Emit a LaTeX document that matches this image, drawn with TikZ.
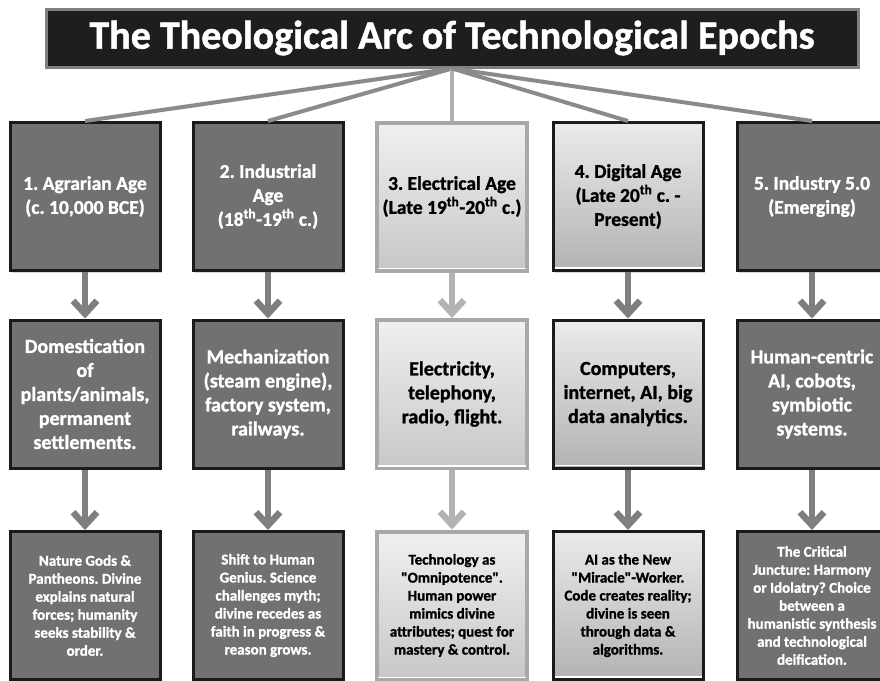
\documentclass[tikz,border=0pt]{standalone}
\usepackage{fontspec}
\setmainfont{Carlito}[BoldFeatures={FakeBold=1.2}]
% same face without the TeX quote mapping, for straight double quotes
\newfontfamily\plainquote{Carlito}[BoldFeatures={FakeBold=1.2}]
\usetikzlibrary{arrows.meta,shadows}
\newcommand{\strq}{{\plainquote"}}
\frenchspacing

\definecolor{titlefill}{HTML}{1E1E1E}
\definecolor{titleedge}{HTML}{808080}
\definecolor{boxdark}{HTML}{717171}
\definecolor{boxedge}{HTML}{1A1A1A}
\definecolor{liteedge}{HTML}{A8A8A8}
\definecolor{spokegray}{HTML}{8A8A8A}
\definecolor{spokelite}{HTML}{AEAEAE}
\definecolor{arrowgray}{HTML}{7F7F7F}
\definecolor{arrowlite}{HTML}{B3B3B3}

\begin{document}
\begin{tikzpicture}[x=1pt,y=-1pt,
  box/.style={minimum width=150pt,minimum height=148pt,inner sep=2pt,
    align=center,line width=3pt,
    drop shadow={opacity=0.3,shadow xshift=2pt,shadow yshift=-2pt}},
  darkcard/.style={box,fill=boxdark,draw=boxedge,text=white},
  palecard/.style={box,top color=white!94!black,bottom color=white!78!black,
    draw=liteedge,line width=4pt,text=black},
  greycard/.style={box,top color=white!92!black,bottom color=white!70!black,
    draw=boxedge,text=black},
  headtext/.style={font=\bfseries\fontsize{19.5}{24}\selectfont},
  eventtext/.style={font=\bfseries\fontsize{20}{24}\selectfont},
  faithtext/.style={font=\bfseries\fontsize{15}{18}\selectfont},
  spoke/.style={draw=spokegray,line width=4pt},
  spokepale/.style={draw=spokelite,line width=4pt},
  flow/.style={draw=arrowgray,line width=6.5pt,
    -{Straight Barb[sharp,length=13pt,width=24pt]}},
  flowpale/.style={flow,draw=arrowlite},
  gleam/.style={draw=white,line width=1.5pt}
]
\clip (0,0) rectangle (880,680);

% title banner
\node[fill=titlefill,draw=titleedge,line width=3pt,text=white,
  minimum width=812pt,minimum height=58pt,
  font=\bfseries\fontsize{40}{44}\selectfont,
  drop shadow={opacity=0.3,shadow xshift=2pt,shadow yshift=-2pt}]
  (title) at (452,38) {The Theological Arc of Technological Epochs};

% column centres: 85, 268, 452, 628, 812
% row 1: the five epochs
\node[darkcard,headtext] (a1) at (85,196.5) {1. Agrarian Age\\(c. 10,000 BCE)};
\node[darkcard,headtext] (a2) at (268,196.5) {2. Industrial\\Age\\(18\textsuperscript{th}-19\textsuperscript{th} c.)};
\node[palecard,headtext] (a3) at (452,196.5) {3. Electrical Age\\(Late 19\textsuperscript{th}-20\textsuperscript{th} c.)};
\node[greycard,headtext] (a4) at (628,196.5) {4. Digital Age\\(Late 20\textsuperscript{th} c. -\\Present)};
\node[darkcard,headtext] (a5) at (812,196.5) {5. Industry 5.0\\(Emerging)};

% row 2: defining technologies
\node[darkcard,eventtext] (b1) at (85,394) {Domestication\\of\\plants/animals,\\permanent\\settlements.};
\node[darkcard,eventtext] (b2) at (268,394) {Mechanization\\(steam engine),\\factory system,\\railways.};
\node[palecard,eventtext] (b3) at (452,394) {Electricity,\\telephony,\\radio, flight.};
\node[greycard,eventtext] (b4) at (628,394) {Computers,\\internet, AI, big\\data analytics.};
\node[darkcard,eventtext] (b5) at (812,394) {Human-centric\\AI, cobots,\\symbiotic\\systems.};

% row 3: the theological reading
\node[darkcard,faithtext] (c1) at (85,605.5) {Nature Gods \&\\Pantheons. Divine\\explains natural\\forces; humanity\\seeks stability \&\\order.};
\node[darkcard,faithtext] (c2) at (268,605.5) {Shift to Human\\Genius. Science\\challenges myth;\\divine recedes as\\faith in progress \&\\reason grows.};
\node[palecard,faithtext] (c3) at (452,605.5) {Technology as\\\strq Omnipotence\strq.\\Human power\\mimics divine\\attributes; quest for\\mastery \& control.};
\node[greycard,faithtext] (c4) at (628,605.5) {AI as the New\\\strq Miracle\strq-Worker.\\Code creates reality;\\divine is seen\\through data \&\\algorithms.};
\node[darkcard,faithtext] (c5) at (812,605.5) {The Critical\\Juncture: Harmony\\or Idolatry? Choice\\between a\\humanistic synthesis\\and technological\\deification.};

% bevel highlights along the bottom of the shaded cards
\foreach \n in {a3,a4,b3,b4,c3,c4}{
  \draw[gleam] ([shift={(3,-4)}]\n.south west) -- ([shift={(-3,-4)}]\n.south east);
}

% spokes from the banner to each epoch
\draw[spoke] (title.south) -- (a1.north);
\draw[spoke] (title.south) -- (a2.north);
\draw[spokepale] (title.south) -- (a3.north);
\draw[spoke] (title.south) -- (a4.north);
\draw[spoke] (title.south) -- (a5.north);

% downward flow in each column
\draw[flow] (a1.south) -- (b1.north);
\draw[flow] (b1.south) -- (c1.north);
\draw[flow] (a2.south) -- (b2.north);
\draw[flow] (b2.south) -- (c2.north);
\draw[flowpale] (a3.south) -- (b3.north);
\draw[flowpale] (b3.south) -- (c3.north);
\draw[flow] (a4.south) -- (b4.north);
\draw[flow] (b4.south) -- (c4.north);
\draw[flow] (a5.south) -- (b5.north);
\draw[flow] (b5.south) -- (c5.north);
\end{tikzpicture}
\end{document}
